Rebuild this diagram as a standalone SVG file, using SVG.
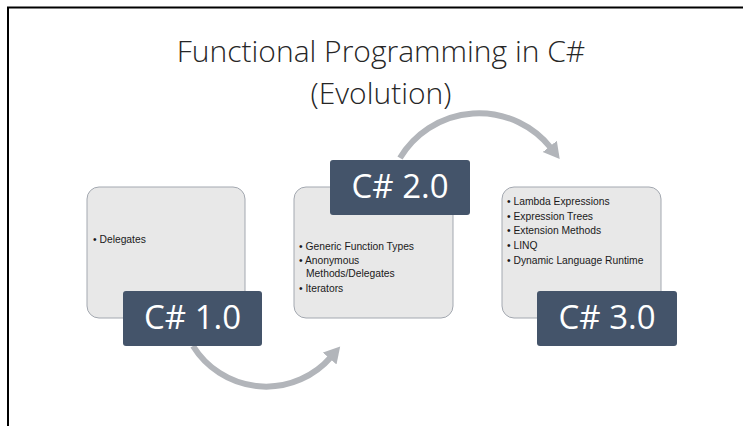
<svg xmlns="http://www.w3.org/2000/svg" width="743" height="426" viewBox="0 0 743 426">
  <style>
    .card { fill: #e8e8e8; stroke: #a3a8b0; stroke-width: 1; }
    .tag { fill: #44546a; }
    .tagtext { fill: #ffffff; font-family: "Open Sans", "Liberation Sans", sans-serif; font-size: 33px; text-anchor: middle; }
    .item { fill: #1a1a1a; font-family: "Liberation Sans", sans-serif; font-size: 10.3px; }
    .title { fill: #262626; font-family: "Open Sans", "Liberation Sans", sans-serif; font-size: 30px; font-weight: 300; text-anchor: middle; }
    .flow { fill: none; stroke: #b2b5ba; stroke-width: 6; marker-end: url(#head); }
  </style>
  <defs>
    <marker id="head" markerUnits="userSpaceOnUse" markerWidth="18" markerHeight="20" refX="2" refY="10" orient="auto" viewBox="0 0 18 20">
      <path d="M0,1 L16,10 L0,19 z" fill="#b2b5ba"/>
    </marker>
  </defs>

  <rect width="743" height="426" fill="#ffffff"/>
  <!-- frame -->
  <path d="M8,426 V7.5 H743" fill="none" stroke="#000000" stroke-width="2"/>

  <g id="title">
    <text class="title" x="381" y="61.5">Functional Programming in C#</text>
    <text class="title" x="381" y="103.5">(Evolution)</text>
  </g>

  <g id="connectors">
    <path class="flow" d="M193,346 A86,86 0 0 0 331,357"/>
    <path class="flow" d="M400,158 A92,92 0 0 1 551,148"/>
  </g>

  <g id="cs1">
    <rect class="card" x="87" y="187" width="158" height="131" rx="12"/>
    <text class="item" x="93" y="243">• Delegates</text>
    <rect class="tag" x="123" y="291" width="139" height="55" rx="3"/>
    <text class="tagtext" x="192.5" y="329">C# 1.0</text>
  </g>

  <g id="cs2">
    <rect class="card" x="294" y="187" width="159" height="131" rx="12"/>
    <text class="item" x="299" y="249.5">• Generic Function Types</text>
    <text class="item" x="299" y="263.5">• Anonymous</text>
    <text class="item" x="306" y="277">Methods/Delegates</text>
    <text class="item" x="299" y="291.5">• Iterators</text>
    <rect class="tag" x="330" y="160" width="140" height="55" rx="3"/>
    <text class="tagtext" x="400" y="198">C# 2.0</text>
  </g>

  <g id="cs3">
    <rect class="card" x="502" y="187" width="159" height="131" rx="12"/>
    <text class="item" x="507" y="205">• Lambda Expressions</text>
    <text class="item" x="507" y="220">• Expression Trees</text>
    <text class="item" x="507" y="234">• Extension Methods</text>
    <text class="item" x="507" y="249">• LINQ</text>
    <text class="item" x="507" y="264">• Dynamic Language Runtime</text>
    <rect class="tag" x="537" y="291" width="140" height="55" rx="3"/>
    <text class="tagtext" x="607" y="329">C# 3.0</text>
  </g>
</svg>
